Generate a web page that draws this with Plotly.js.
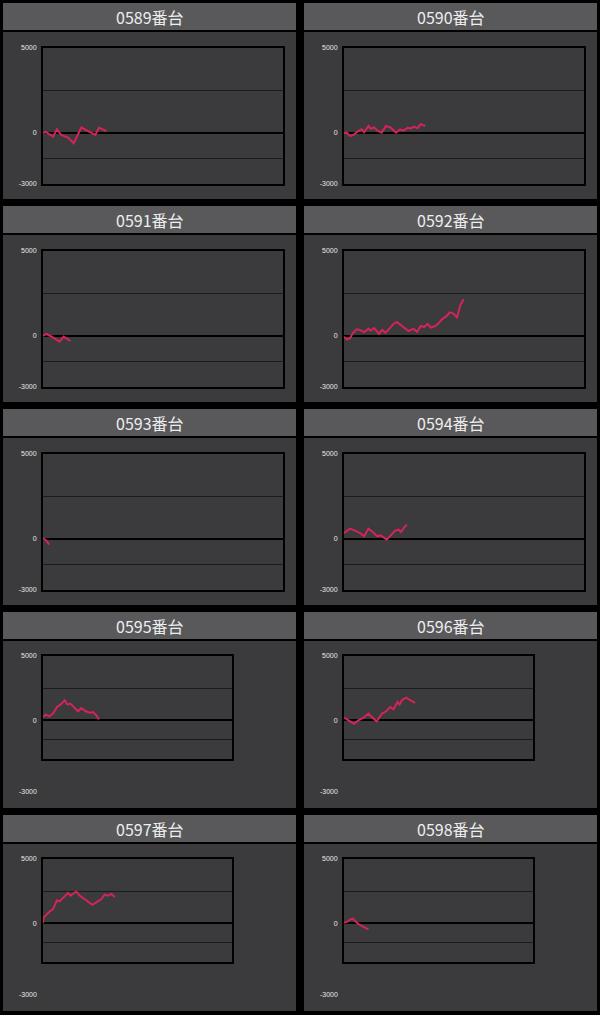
<!DOCTYPE html>
<html><head><meta charset="utf-8">
<script src="https://cdn.plot.ly/plotly-3.0.1.min.js"></script>
<style>html,body{margin:0;padding:0;background:#000;}#chart{width:600px;height:1015px;}</style>
</head><body><div id="chart"></div>
<script>
// ---- data ----
const machines = ['0589番台','0590番台','0591番台','0592番台','0593番台','0594番台','0595番台','0596番台','0597番台','0598番台'];

const x0589 = [0,1.1,4.2,5.8,7.6,10.4,12.8,16,18.8,21.8,23.3,26.4];
const y0589 = [0,60,-215,215,-117,-273,-605,332,117,-117,312,117];

const x0590 = [0,1.1,2.5,3.9,5.6,7.4,8.4,10.2,11.1,12.5,13.9,15.7,17.5,19.5,21.7,23.4,24.8,26.5,27.9,29.2,30.6,32,32.9,33.8];
const y0590 = [0,20,-175,-117,78,215,39,410,254,332,137,20,410,312,20,215,137,312,273,371,273,527,468,410];

const x0591 = [0,1.4,3.1,5.3,6.9,8.6,9.7,11.4];
const y0591 = [0,118,0,-196,-333,-39,-137,-294];

const x0592 = [0,1.1,2.5,3.6,5.3,6.7,8.4,10.2,11.1,12.5,13.6,14.5,15.9,17.3,19,20.6,22,23.4,25.1,26.9,29,30.4,32,33.4,34.8,36.2,38,39.4,40.8,42.9,44,45.4,47.1,47.8,48.5,49.9];
const y0592 = [-39,-196,-137,157,392,353,216,431,314,470,294,118,353,196,451,706,823,666,470,294,431,235,588,529,706,490,588,745,980,1196,1392,1333,1098,1529,1823,2156];

const x0593 = [0,1.4,2.6];
const y0593 = [60,-100,-330];

const x0594 = [0,2.5,4.6,6.7,8.4,10.2,12,13.9,15.3,16.4,17.8,19.5,21.3,22.7,23.7,25.1,26.2];
const y0594 = [353,608,490,353,157,608,412,157,216,98,-39,216,490,549,412,686,843];

const x0595 = [0,1.4,3.2,5.3,7.4,9.2,11.5,12.9,14.5,16.2,18.5,20.3,22.6,24.7,26.5,28.2,29.6];
const y0595 = [260,443,313,521,1042,1224,1562,1224,1302,1042,703,964,703,599,651,391,78];

const x0596 = [0,1.8,3.5,5.3,7.6,10.3,12.9,15.2,17.3,20,22.3,24.4,26.2,28.3,29.4,30.6,32.9,35,37.7];
const y0596 = [208,52,-130,-260,0,208,521,182,-78,521,703,1042,859,1432,1224,1562,1771,1562,1354];

const x0597 = [0,0.3,1.8,3.5,5.3,6.2,7.4,8.8,10.9,13.2,14.5,16.2,17.6,19.4,22,24.3,26.1,28.2,30.9,32.6,34.4,36.2,37.9];
const y0597 = [0,450,658,921,1105,1447,1789,1710,2052,2367,2157,2315,2473,2157,1894,1631,1447,1631,1894,2236,2157,2289,2052];

const x0598 = [0,1.8,3.5,4.6,5.8,7.6,10.3,12.9];
const y0598 = [53,132,316,368,210,-53,-263,-473];

const seriesX = [x0589,x0590,x0591,x0592,x0593,x0594,x0595,x0596,x0597,x0598];
const seriesY = [y0589,y0590,y0591,y0592,y0593,y0594,y0595,y0596,y0597,y0598];

const xRange = [0,100];
const yRange = [-3000,5000];
const tickVals = [5000,2500,0,-1500,-3000];
const tickTextFull = ['5000','','0','','-3000'];
const tickTextShort = ['5000','','0','',''];
const lowLabel = '-3000';

// ---- geometry (pixels) ----
const W = 600, H = 1015;
const colLeft = [3,304], colW = 293;
const rowTop = [3,206,409,612,815];
const headerH = 27, bodyOff = 29, bodyEnd = 196;
const px = v => v / W;
const py = v => 1 - v / H;

const traces = [], shapes = [], annotations = [];
const layout = {
  width: W, height: H,
  margin: {l:0,r:0,t:0,b:0},
  paper_bgcolor: '#000',
  plot_bgcolor: '#343336',
  showlegend: false,
  hovermode: false,
  font: {family: 'Liberation Sans, Arial, sans-serif', color: '#e8e8e8'}
};

machines.forEach((name, i) => {
  const row = Math.floor(i / 2), col = i % 2;
  const L = colLeft[col], T = rowTop[row];
  const short = row >= 3;
  const n = i + 1;
  const xa = 'xaxis' + (n === 1 ? '' : n), ya = 'yaxis' + (n === 1 ? '' : n);
  const xr = 'x' + (n === 1 ? '' : n), yr = 'y' + (n === 1 ? '' : n);

  // panel header & body
  shapes.push({type:'rect', xref:'paper', yref:'paper', layer:'below',
    x0:px(L), x1:px(L+colW), y0:py(T+headerH), y1:py(T),
    fillcolor:'#59585b', line:{width:0}});
  shapes.push({type:'rect', xref:'paper', yref:'paper', layer:'below',
    x0:px(L), x1:px(L+colW), y0:py(T+bodyEnd), y1:py(T+bodyOff),
    fillcolor:'#3b3a3d', line:{width:0}});

  annotations.push({xref:'paper', yref:'paper', x:px(L+colW/2), y:py(T+headerH/2+0.5),
    xanchor:'center', yanchor:'middle', showarrow:false, text:name,
    font:{family:'Noto Sans CJK JP, sans-serif', size:16, color:'#eeeeee'}});

  const pl = L + 40, pr = L + (short ? 229 : 280);
  const pt = T + (short ? 44 : 45), pb = T + (short ? 147 : 181);

  layout[xa] = {domain:[px(pl), px(pr)], range:xRange, anchor:yr,
    showgrid:false, zeroline:false, showticklabels:false, ticks:'',
    showline:true, mirror:true, linecolor:'#000', linewidth:2, fixedrange:true};
  layout[ya] = {domain:[py(pb), py(pt)], range:yRange, anchor:xr,
    tickmode:'array', tickvals:tickVals, ticktext: short ? tickTextShort : tickTextFull,
    ticks:'outside', ticklen:3, tickcolor:'rgba(0,0,0,0)',
    tickfont:{size:7, color:'#e8e8e8', family:'Liberation Sans, Arial, sans-serif'},
    showgrid:true, gridcolor:'#1b1b1d', gridwidth:1.2,
    zeroline:true, zerolinecolor:'#000', zerolinewidth:2,
    showline:true, mirror:true, linecolor:'#000', linewidth:2, fixedrange:true};

  if (short) {
    annotations.push({xref:'paper', yref:'paper', x:px(pl-4), y:py(T+179),
      xanchor:'right', yanchor:'middle', showarrow:false, text:lowLabel,
      font:{size:7, color:'#e8e8e8', family:'Liberation Sans, Arial, sans-serif'}});
  }

  traces.push({type:'scatter', mode:'lines', x:seriesX[i], y:seriesY[i],
    xaxis:xr, yaxis:yr, line:{color:'#d6245a', width:2}, hoverinfo:'skip'});
});

layout.shapes = shapes;
layout.annotations = annotations;
Plotly.newPlot('chart', traces, layout, {staticPlot:true, displayModeBar:false});
</script>
</body></html>
